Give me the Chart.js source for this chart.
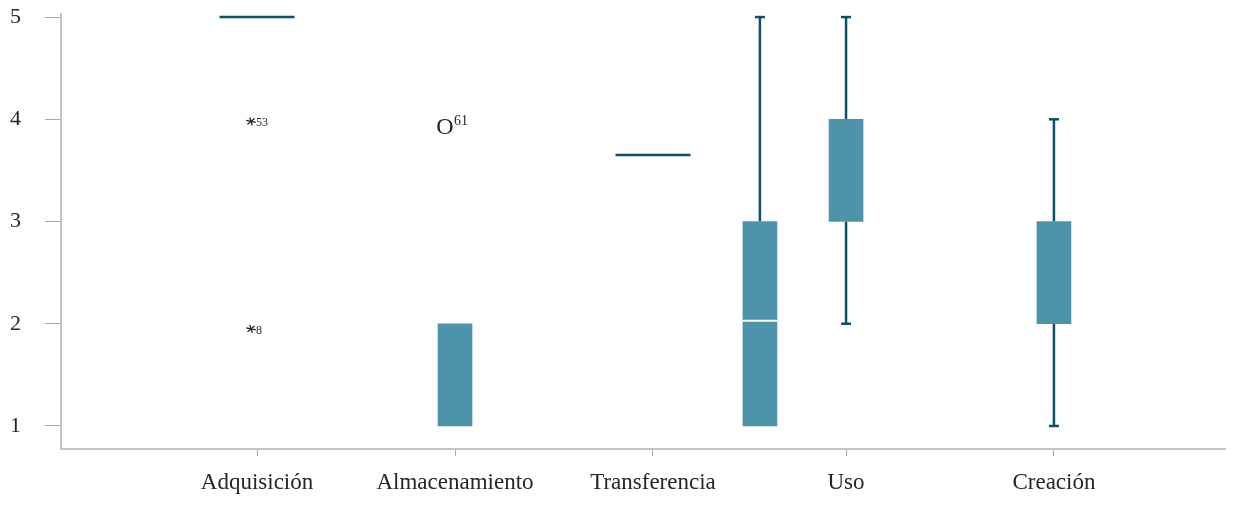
<!DOCTYPE html>
<html lang="es">
  <head>
    <meta charset="UTF-8" />
    <title>Diagrama de cajas</title>
    <script src="https://cdn.jsdelivr.net/npm/chart.js"></script>
    <style>
      body {
        margin: 0;
        background: #fff;
      }
    </style>
  </head>
  <body>
    <canvas id="boxChart" width="1238" height="515"></canvas>

    <script>
      // Categories and where their ticks sit on the (linear) x axis
      const categories = ["Adquisición", "Almacenamiento", "Transferencia", "Uso", "Creación"];
      const tickPos = [1, 2, 3, 3.975, 5.025];

      // Boxes (the extra box between Transferencia and Uso is in the original)
      const boxPos = [1, 2, 3, 3.54, 3.975, 5.025];
      const q1 = [5, 1, 3.65, 1, 3, 2];
      const q3 = [5, 2, 3.65, 3, 4, 3];
      const median = [5, 1, 3.65, 2.03, 4, 3];
      const whiskerLow = [5, 1, 3.65, 1, 2, 1];
      const whiskerHigh = [5, 2, 3.65, 5, 5, 4];

      // Outliers / extremes with their case numbers
      const outlierPos = [1, 1, 2];
      const outlierVal = [3.98, 1.95, 3.93];
      const outlierId = ["53", "8", "61"];
      const outlierKind = ["extreme", "extreme", "outlier"];

      const boxColor = "#4d94aa";
      const lineColor = "#0d4f66";
      const serif = "'Liberation Serif', 'DejaVu Serif', serif";

      Chart.defaults.font.family = serif;
      Chart.defaults.color = "#262626";

      // whiskers, collapsed boxes, medians and outlier symbols
      const boxExtras = {
        id: "boxExtras",
        beforeDatasetsDraw(chart) {
          const ctx = chart.ctx;
          const x = chart.scales.x;
          const y = chart.scales.y;
          ctx.save();
          ctx.strokeStyle = lineColor;
          ctx.lineWidth = 2.5;
          boxPos.forEach((p, i) => {
            const px = x.getPixelForValue(p);
            if (q1[i] === q3[i]) {
              const py = y.getPixelForValue(q1[i]);
              ctx.beginPath();
              ctx.moveTo(px - 37.5, py);
              ctx.lineTo(px + 37.5, py);
              ctx.stroke();
              return;
            }
            const segs = [
              [whiskerHigh[i], q3[i]],
              [whiskerLow[i], q1[i]],
            ];
            segs.forEach(([w, q]) => {
              if (w === q) return;
              const wy = y.getPixelForValue(w);
              const qy = y.getPixelForValue(q);
              ctx.beginPath();
              ctx.moveTo(px, wy);
              ctx.lineTo(px, qy);
              ctx.stroke();
              ctx.beginPath();
              ctx.moveTo(px - 5, wy);
              ctx.lineTo(px + 5, wy);
              ctx.stroke();
            });
          });
          ctx.restore();
        },
        afterDatasetsDraw(chart) {
          const ctx = chart.ctx;
          const x = chart.scales.x;
          const y = chart.scales.y;
          ctx.save();
          // median lines that fall inside a box
          ctx.strokeStyle = "#ffffff";
          ctx.lineWidth = 2;
          boxPos.forEach((p, i) => {
            if (median[i] > q1[i] && median[i] < q3[i]) {
              const px = x.getPixelForValue(p);
              const py = y.getPixelForValue(median[i]);
              ctx.beginPath();
              ctx.moveTo(px - 17, py);
              ctx.lineTo(px + 17, py);
              ctx.stroke();
            }
          });
          // outliers
          outlierPos.forEach((p, i) => {
            const px = x.getPixelForValue(p);
            const py = y.getPixelForValue(outlierVal[i]);
            ctx.fillStyle = "#262626";
            ctx.strokeStyle = "#262626";
            ctx.textBaseline = "middle";
            if (outlierKind[i] === "extreme") {
              const cx = px - 6;
              ctx.lineWidth = 1.3;
              for (let k = 0; k < 3; k++) {
                const a = (k * Math.PI) / 3 + Math.PI / 12;
                ctx.beginPath();
                ctx.moveTo(cx - 5 * Math.cos(a), py - 4 * Math.sin(a));
                ctx.lineTo(cx + 5 * Math.cos(a), py + 4 * Math.sin(a));
                ctx.stroke();
              }
              ctx.font = "12px " + serif;
              ctx.textAlign = "left";
              ctx.fillText(outlierId[i], px - 1, py + 1.5);
            } else {
              ctx.font = "24px " + serif;
              ctx.textAlign = "center";
              ctx.fillText("O", px - 10, py + 1);
              ctx.font = "14px " + serif;
              ctx.textAlign = "left";
              ctx.fillText(outlierId[i], px - 1, py - 5);
            }
          });
          ctx.restore();
        },
      };

      const boxData = [];
      boxPos.forEach((p, i) => {
        if (q1[i] !== q3[i]) boxData.push({ x: p, y: [q1[i], q3[i]] });
      });

      var ctx = document.getElementById("boxChart").getContext("2d");
      var boxChart = new Chart(ctx, {
        type: "bar",
        data: {
          datasets: [
            {
              data: boxData,
              backgroundColor: boxColor,
              borderWidth: 0,
              barThickness: 34,
            },
          ],
        },
        options: {
          responsive: false,
          animation: false,
          layout: {
            padding: { top: 14, right: 13, left: 0, bottom: 0 },
          },
          plugins: {
            legend: { display: false },
            tooltip: { enabled: false },
          },
          scales: {
            x: {
              type: "linear",
              offset: false,
              min: 0.01,
              max: 5.889,
              afterBuildTicks: (scale) => {
                scale.ticks = tickPos.map((v) => ({ value: v }));
              },
              afterFit: (scale) => {
                scale.height = 66;
                scale.paddingLeft = 0;
                scale.paddingRight = 0;
              },
              ticks: {
                autoSkip: false,
                maxRotation: 0,
                padding: 13,
                font: { size: 23 },
                callback: (value, index) => categories[index],
              },
              grid: {
                offset: false,
                drawOnChartArea: false,
                tickLength: 7,
                color: "#a8a8a8",
              },
              border: { color: "#c4c4c4", width: 2 },
            },
            y: {
              type: "linear",
              min: 0.775,
              max: 5.03,
              afterBuildTicks: (scale) => {
                scale.ticks = [1, 2, 3, 4, 5].map((v) => ({ value: v }));
              },
              afterFit: (scale) => {
                scale.width = 61;
                scale.paddingTop = 0;
                scale.paddingBottom = 0;
              },
              ticks: {
                padding: 24,
                font: { size: 22 },
              },
              grid: {
                drawOnChartArea: false,
                tickLength: 16,
                color: "#a8a8a8",
              },
              border: { color: "#c4c4c4", width: 2 },
            },
          },
        },
        plugins: [boxExtras],
      });
    </script>
  </body>
</html>
